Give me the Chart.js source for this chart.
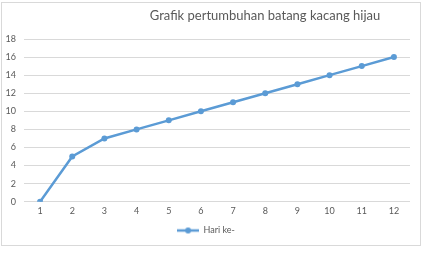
<!DOCTYPE html>
<html>
<head>
<meta charset="utf-8">
<script src="https://cdn.jsdelivr.net/npm/chart.js@4/dist/chart.umd.min.js"></script>
<style>
  html, body { margin: 0; padding: 0; background: #fff; }
  #frame {
    position: absolute; left: 1px; top: 2px;
    width: 418px; height: 242px;
    border: 1px solid #d9d9d9; background: #fff;
  }
  #chart { display: block; }
</style>
</head>
<body>
<div id="frame"><canvas id="chart" width="418" height="242"></canvas></div>
<script>
// Days of observation and stem height on each day
const hariKe = ['1', '2', '3', '4', '5', '6', '7', '8', '9', '10', '11', '12'];
const tinggiBatang = [0, 5, 7, 8, 9, 10, 11, 12, 13, 14, 15, 16];
const judul = 'Grafik pertumbuhan batang kacang hijau';
const namaSeri = 'Hari ke-';

const biru = '#5b9bd5';
const abu = '#595959';
const fontFamily = 'Lato, "Open Sans", "Liberation Sans", sans-serif';

// Legend marker: short line with a dot in the middle
const marker = document.createElement('canvas');
marker.width = 22; marker.height = 8;
(function () {
  const c = marker.getContext('2d');
  c.strokeStyle = biru; c.lineWidth = 2.5;
  c.beginPath(); c.moveTo(0, 4); c.lineTo(22, 4); c.stroke();
  c.fillStyle = biru;
  c.beginPath(); c.arc(11, 4, 3, 0, Math.PI * 2); c.fill();
})();

// Title drawn above the plot, shifted right of centre
const judulPlugin = {
  id: 'judul',
  afterDraw(chart) {
    const ctx = chart.ctx;
    ctx.save();
    ctx.font = '13px ' + fontFamily;
    ctx.fillStyle = abu;
    ctx.textAlign = 'center';
    ctx.textBaseline = 'middle';
    ctx.fillText(judul, 263, 13);
    ctx.restore();
  }
};

new Chart(document.getElementById('chart'), {
  type: 'line',
  data: {
    labels: hariKe,
    datasets: [{
      label: namaSeri,
      data: tinggiBatang,
      borderColor: biru,
      backgroundColor: biru,
      borderWidth: 2.5,
      pointRadius: 3,
      pointHoverRadius: 3,
      pointBackgroundColor: biru,
      pointBorderWidth: 0,
      tension: 0
    }]
  },
  options: {
    responsive: false,
    animation: false,
    layout: { padding: { top: 36, left: 0, right: 10, bottom: 0 } },
    plugins: {
      title: { display: false },
      tooltip: { enabled: false },
      legend: {
        position: 'bottom',
        labels: {
          usePointStyle: true,
          pointStyleWidth: 22,
          color: abu,
          font: { family: fontFamily, size: 9 },
          padding: 5.5,
          generateLabels(chart) {
            return chart.data.datasets.map((ds, i) => ({
              text: ds.label,
              pointStyle: marker,
              fillStyle: biru,
              strokeStyle: biru,
              fontColor: abu,
              lineWidth: 0,
              datasetIndex: i
            }));
          }
        }
      }
    },
    scales: {
      x: {
        offset: true,
        grid: { display: false, drawTicks: false },
        border: { display: false },
        ticks: {
          color: abu,
          font: { family: fontFamily, size: 9 },
          padding: 4,
          maxRotation: 0
        }
      },
      y: {
        min: 0,
        max: 18,
        afterFit(scale) { scale.width = 22; },
        grid: { color: '#d9d9d9', lineWidth: 1, drawTicks: false },
        border: { display: false },
        ticks: {
          stepSize: 2,
          color: abu,
          font: { family: fontFamily, size: 9 },
          padding: 8
        }
      }
    }
  },
  plugins: [judulPlugin]
});
</script>
</body>
</html>
